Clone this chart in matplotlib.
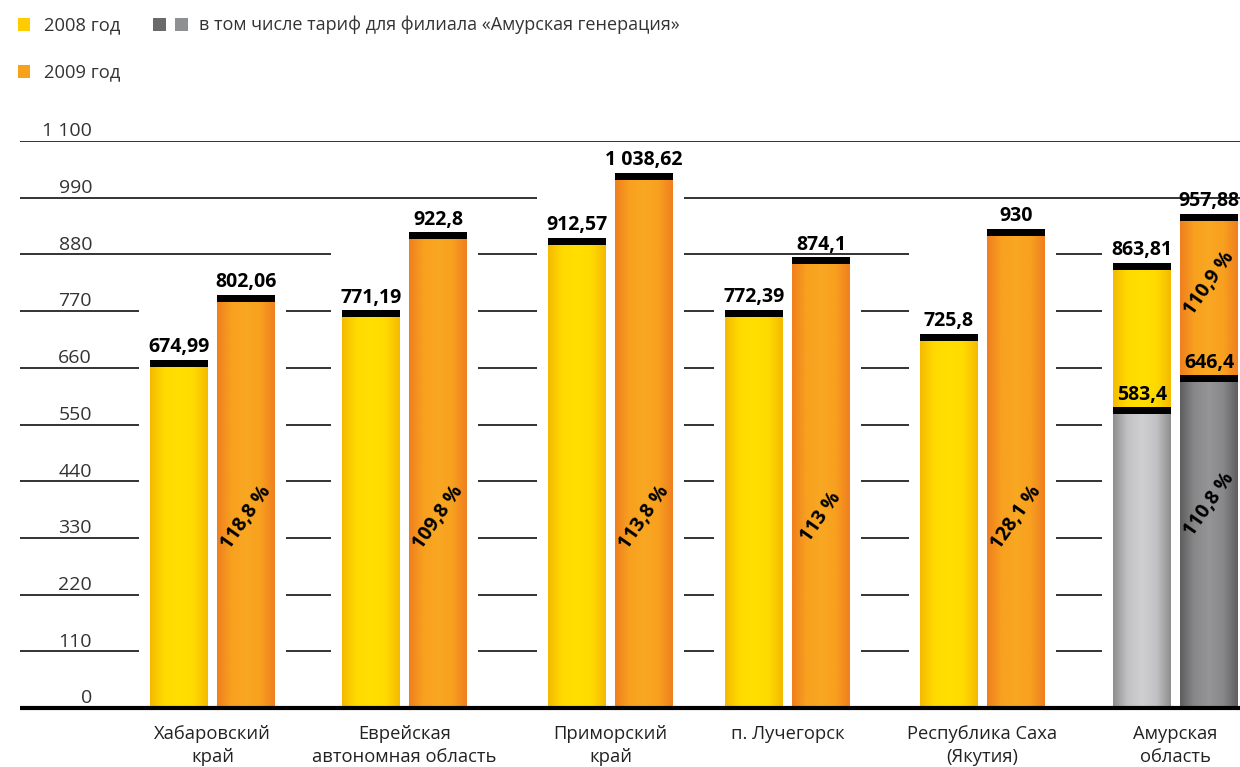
import numpy as np
import matplotlib
matplotlib.use("Agg")
import matplotlib.pyplot as plt
from matplotlib.colors import LinearSegmentedColormap
from matplotlib.patches import Rectangle

plt.rcParams['font.family'] = ['Open Sans', 'DejaVu Sans']

# ---------------- data ----------------
regions = ['Хабаровский\nкрай', 'Еврейская\nавтономная область', 'Приморский\nкрай',
           'п. Лучегорск', 'Республика Саха\n(Якутия)', 'Амурская\nобласть']
tariff_2008 = [674.99, 771.19, 912.57, 772.39, 725.8, 863.81]
tariff_2009 = [802.06, 922.8, 1038.62, 874.1, 930, 957.88]
growth = ['118,8 %', '109,8 %', '113,8 %', '113 %', '128,1 %', '110,9 %']
amur_gen_2008 = 583.4
amur_gen_2009 = 646.4
amur_gen_growth = '110,8 %'
yticks = [0, 110, 220, 330, 440, 550, 660, 770, 880, 990, 1100]
ytick_labels = ['0', '110', '220', '330', '440', '550', '660', '770', '880', '990', '1 100']
legend_labels = ['2008 год', '2009 год', 'в том числе тариф для филиала «Амурская генерация»']

# ---------------- layout ----------------
W, H = 1240, 767
group_x = [212.5, 404.5, 610.5, 787.5, 982.5, 1175.5]
bar_w = 58
half = 33.5
cap = 13.5
pct_y = [370, 370, 370, 370, 370, 824]
amur_low_pct_y = 394

YEL = ['#F4BA00', '#FFDA00', '#FFDF00', '#FFDA00', '#F4BA00']
ORA = ['#F07F1F', '#F8A01F', '#F9A823', '#F8A01F', '#F07F1F']
LGR = ['#8E8E8E', '#C2C2C4', '#CFCFD1', '#C2C2C4', '#8E8E8E']
DGR = ['#5E5E5E', '#88888A', '#959597', '#88888A', '#5E5E5E']


def fmt(v):
    s = f'{v:,.2f}'.rstrip('0').rstrip('.')
    return s.replace(',', ' ').replace('.', ',')


fig = plt.figure(figsize=(W / 100, H / 100), dpi=100)
ax = fig.add_axes([0, (H - 708) / H, 1, 567 / H])
ax.set_xlim(0, W)
ax.set_ylim(0, 1100)
ax.axis('off')

# gridlines
for v in yticks[1:]:
    ax.hlines(v, 20, W, color='#111111', lw=1.2, zorder=1)
for v, lab in zip(yticks, ytick_labels):
    ax.annotate(lab, (92, v), xytext=(0, 0.5), textcoords='offset points',
                ha='right', va='bottom', fontsize=14, color='#333333')
ax.hlines(0, 20, W, color='black', lw=3, zorder=6, clip_on=False)

# white masks around groups
gmax = [max(a, b) for a, b in zip(tariff_2008, tariff_2009)]
ax.bar(group_x, gmax, width=2 * half + bar_w + 22, color='white', zorder=2)


def grad_bar(x, bottom, top, colors):
    bars = ax.bar([x], [top - bottom], bottom=[bottom], width=bar_w,
                  color=colors[2], zorder=3, linewidth=0)
    p = bars[0]
    cmap = LinearSegmentedColormap.from_list('g', colors)
    img = ax.imshow(np.linspace(0, 1, 256)[None, :], cmap=cmap, aspect='auto',
                    extent=[p.get_x(), p.get_x() + p.get_width(), bottom, top],
                    zorder=3.5, interpolation='bilinear')
    img.set_clip_path(p)


def cap_bar(x, top):
    ax.bar([x], [cap], bottom=[top - cap], width=bar_w, color='black', zorder=4, linewidth=0)


VAL_FS = 14
PCT_FS = 14
n = len(regions)
for i in range(n):
    x8, x9 = group_x[i] - half, group_x[i] + half
    if i == n - 1:
        grad_bar(x8, 0, amur_gen_2008, LGR)
        grad_bar(x8, amur_gen_2008, tariff_2008[i], YEL)
        grad_bar(x9, 0, amur_gen_2009, DGR)
        grad_bar(x9, amur_gen_2009, tariff_2009[i], ORA)
        cap_bar(x8, amur_gen_2008)
        cap_bar(x9, amur_gen_2009)
        ax.annotate(fmt(amur_gen_2008), (x8, amur_gen_2008), xytext=(0, 1.5),
                    textcoords='offset points', ha='center', va='bottom',
                    fontsize=VAL_FS, fontweight='bold', zorder=7)
        ax.annotate(fmt(amur_gen_2009), (x9, amur_gen_2009), xytext=(0, 1.5),
                    textcoords='offset points', ha='center', va='bottom',
                    fontsize=VAL_FS, fontweight='bold', zorder=7)
        ax.text(x9, amur_low_pct_y, amur_gen_growth, rotation=55, ha='center', va='center',
                rotation_mode='anchor', fontsize=PCT_FS, fontweight='bold', zorder=7)
    else:
        grad_bar(x8, 0, tariff_2008[i], YEL)
        grad_bar(x9, 0, tariff_2009[i], ORA)
    cap_bar(x8, tariff_2008[i])
    cap_bar(x9, tariff_2009[i])
    ax.annotate(fmt(tariff_2008[i]), (x8, tariff_2008[i]), xytext=(0, 2),
                textcoords='offset points', ha='center', va='bottom',
                fontsize=VAL_FS, fontweight='bold', zorder=7)
    ax.annotate(fmt(tariff_2009[i]), (x9, tariff_2009[i]), xytext=(0, 2),
                textcoords='offset points', ha='center', va='bottom',
                fontsize=VAL_FS, fontweight='bold', zorder=7)
    ax.text(x9, pct_y[i], growth[i], rotation=55, ha='center', va='center',
            rotation_mode='anchor', fontsize=PCT_FS, fontweight='bold', zorder=7)
    ax.annotate(regions[i], (group_x[i], 0), xytext=(0, -12.5), textcoords='offset points',
                ha='center', va='top', fontsize=13.2, color='#222222',
                linespacing=1.32, annotation_clip=False)

# legend (overlay in pixel coords)
lg = fig.add_axes([0, 0, 1, 1], zorder=10)
lg.set_xlim(0, W)
lg.set_ylim(H, 0)
lg.axis('off')
lg.add_patch(Rectangle((18, 18), 12, 13, color='#FFCC00', lw=0))
lg.add_patch(Rectangle((18, 65), 12, 13, color='#F7A21B', lw=0))
lg.add_patch(Rectangle((153, 18), 13, 13, color='#6A6A6C', lw=0))
lg.add_patch(Rectangle((175, 18), 13, 13, color='#8F9092', lw=0))
lg.text(44, 25, legend_labels[0], va='center', ha='left', fontsize=13.2, color='#333333')
lg.text(44, 72, legend_labels[1], va='center', ha='left', fontsize=13.2, color='#333333')
lg.text(199, 25, legend_labels[2], va='center', ha='left', fontsize=13, color='#333333')

fig.savefig('out.png', dpi=100)
